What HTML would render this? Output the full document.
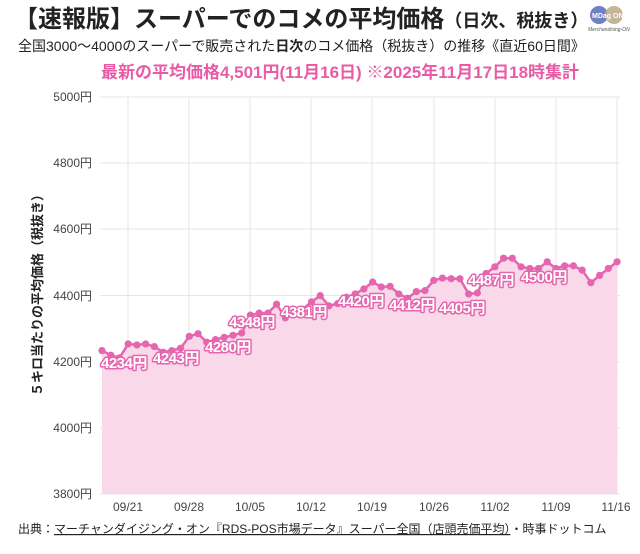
<!DOCTYPE html>
<html><head><meta charset="utf-8"><style>
body{margin:0;background:#fff;width:640px;height:554px;overflow:hidden}
svg{display:block}
text{font-family:"Liberation Sans","Noto Sans CJK JP",sans-serif}
</style></head><body>
<svg width="640" height="554" viewBox="0 0 640 554" xmlns="http://www.w3.org/2000/svg">
<text x="14" y="27" font-size="24" font-weight="bold" fill="#222">【速報版】スーパーでのコメの平均価格<tspan font-size="18">（日次、税抜き）</tspan></text>
<circle cx="599" cy="15" r="9" fill="#7080c4"/><circle cx="614" cy="15" r="9" fill="#bfae8e" opacity="0.9"/>
<text x="592" y="18" font-size="7" fill="#fff" font-weight="bold">MDag ON</text>
<text x="588" y="31" font-size="5" fill="#555" font-style="italic">Merchandising-ON</text>
<text x="18" y="51" font-size="14" fill="#222">全国3000〜4000のスーパーで販売された<tspan font-weight="bold">日次</tspan>のコメ価格（税抜き）の推移《直近60日間》</text>
<text x="340" y="78" font-size="17" font-weight="bold" fill="#e85ba5" text-anchor="middle">最新の平均価格4,501円(11月16日) ※2025年11月17日18時集計</text>
<g stroke="#e6e6e6" stroke-width="1">
<line x1="100" x2="620" y1="97" y2="97"/><line x1="100" x2="620" y1="163" y2="163"/><line x1="100" x2="620" y1="229" y2="229"/><line x1="100" x2="620" y1="295.5" y2="295.5"/><line x1="100" x2="620" y1="362" y2="362"/><line x1="100" x2="620" y1="428" y2="428"/><line x1="100" x2="620" y1="494" y2="494"/>
<line x1="128" x2="128" y1="97" y2="494"/><line x1="189" x2="189" y1="97" y2="494"/><line x1="250" x2="250" y1="97" y2="494"/><line x1="311" x2="311" y1="97" y2="494"/><line x1="372" x2="372" y1="97" y2="494"/><line x1="434" x2="434" y1="97" y2="494"/><line x1="495" x2="495" y1="97" y2="494"/><line x1="556" x2="556" y1="97" y2="494"/><line x1="617" x2="617" y1="97" y2="494"/>
</g>
<g font-size="12" fill="#444" text-anchor="end">
<text x="92" y="101">5000円</text><text x="92" y="167">4800円</text><text x="92" y="233">4600円</text><text x="92" y="300">4400円</text><text x="92" y="366">4200円</text><text x="92" y="432">4000円</text><text x="92" y="498">3800円</text>
</g>
<g font-size="12" fill="#444" text-anchor="middle">
<text x="128" y="511">09/21</text><text x="189" y="511">09/28</text><text x="250" y="511">10/05</text><text x="311" y="511">10/12</text><text x="372" y="511">10/19</text><text x="434" y="511">10/26</text><text x="495" y="511">11/02</text><text x="556" y="511">11/09</text><text x="616" y="511">11/16</text>
</g>
<text transform="translate(42,292) rotate(-90)" font-size="13" font-weight="bold" fill="#222" text-anchor="middle">５キロ当たりの平均価格（税抜き）</text>
<g id="chart"></g>
<text x="18" y="533" font-size="12" fill="#222">出典：<tspan text-decoration="underline">マーチャンダイジング・オン『RDS-POS市場データ』スーパー全国（店頭売価平均）</tspan>・時事ドットコム</text>
</svg>
<script>
var v=[4234,4220,4212,4254,4251,4254,4246,4229,4234,4241,4277,4285,4259,4267,4274,4280,4287,4341,4347,4347,4374,4333,4343,4359,4381,4400,4369,4376,4395,4405,4420,4441,4426,4428,4405,4392,4412,4415,4446,4453,4451,4451,4405,4408,4467,4487,4513,4513,4487,4482,4482,4502,4482,4490,4490,4477,4439,4461,4482,4502];
var ns="http://www.w3.org/2000/svg",g=document.getElementById("chart");
function X(i){return 102+8.73*i}function Y(a){return 97+(5000-a)*0.331}
var pts=v.map(function(a,i){return X(i).toFixed(1)+","+Y(a).toFixed(1)});
var area=document.createElementNS(ns,"polygon");
area.setAttribute("points",pts.join(" ")+" "+X(59)+",494 "+X(0)+",494");
area.setAttribute("fill","#f9d8ea");g.appendChild(area);
var pl=document.createElementNS(ns,"polyline");
pl.setAttribute("points",pts.join(" "));pl.setAttribute("fill","none");pl.setAttribute("stroke","#e565ae");pl.setAttribute("stroke-width","2.5");g.appendChild(pl);
v.forEach(function(a,i){var c=document.createElementNS(ns,"circle");c.setAttribute("cx",X(i));c.setAttribute("cy",Y(a));c.setAttribute("r","3.6");c.setAttribute("fill","#e565ae");g.appendChild(c)});
var L=[["4234円",101,368],["4243円",153,363],["4280円",205,352],["4348円",229,327],["4381円",281,317],["4420円",338,306],["4412円",389,310],["4405円",439,313],["4487円",468,285],["4500円",521,282]];
L.forEach(function(l){var t=document.createElementNS(ns,"text");t.setAttribute("x",l[1]);t.setAttribute("y",l[2]);t.setAttribute("font-size","15");t.setAttribute("font-weight","bold");t.setAttribute("fill","#fff");t.setAttribute("stroke","#e565ae");t.setAttribute("stroke-width","3");t.setAttribute("paint-order","stroke");t.setAttribute("stroke-linejoin","round");t.setAttribute("letter-spacing","-0.5");t.textContent=l[0];g.appendChild(t)});
</script>
</body></html>
